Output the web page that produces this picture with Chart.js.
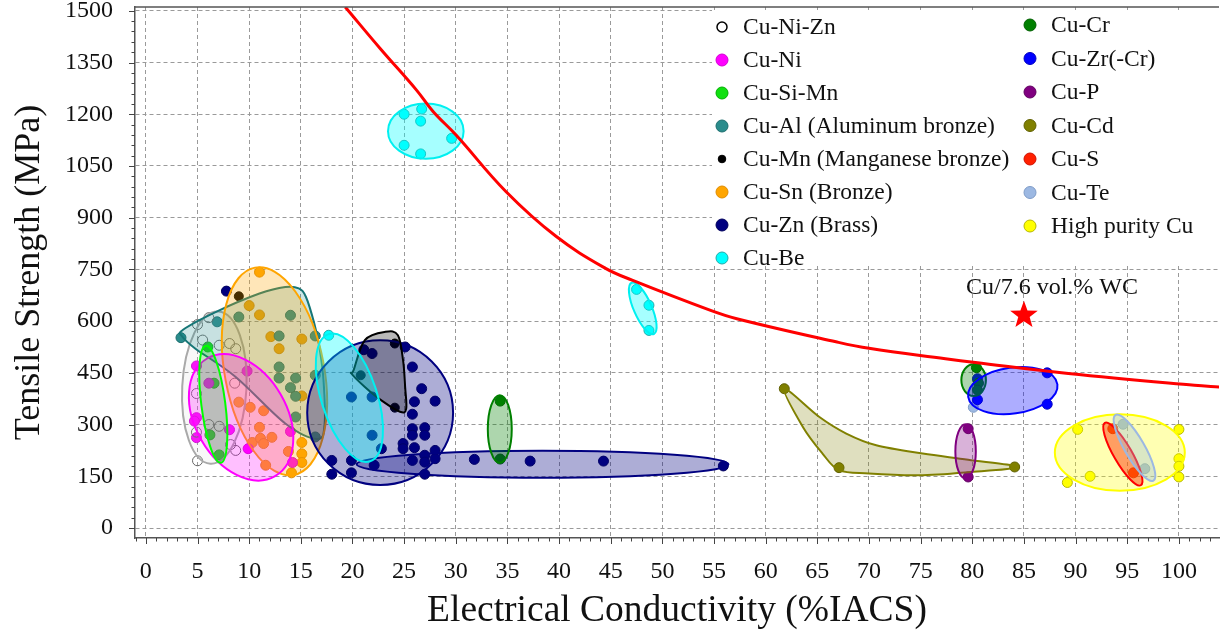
<!DOCTYPE html>
<html>
<head>
<meta charset="utf-8">
<script src="https://cdn.jsdelivr.net/npm/chart.js@4.4.1/dist/chart.umd.min.js"></script>
<style>
  html, body { margin: 0; padding: 0; background: #fff; }
  #wrap { width: 1225px; height: 634px; }
</style>
</head>
<body>
<div id="wrap"><canvas id="c" width="1225" height="634"></canvas></div>
<script>
// ---- axis ticks ----
const xTickValues = [0,5,10,15,20,25,30,35,40,45,50,55,60,65,70,75,80,85,90,95,100];
const yTickValues = [0,150,300,450,600,750,900,1050,1200,1350,1500];

// ---- measured alloys: [conductivity %IACS, tensile strength MPa] ----
const cuNiZn = [[5.0,590],[6.1,610],[5.5,545],[8.1,535],[7.1,530],[8.7,520],[8.6,420],[4.9,390],[6.1,300],[7.1,295],[4.9,278],[8.2,242],[8.7,225],[5.0,195]];
const cuNi = [[4.9,470],[9.8,455],[6.1,420],[4.9,320],[4.7,310],[8.1,285],[4.9,262],[9.9,230],[14.0,280],[14.2,190]];
const cuSiMn = [[6.0,525],[6.6,420],[6.2,270],[7.1,212]];
const cuAl = [[3.4,552],[6.9,598],[9.0,612],[14.0,617],[12.9,557],[16.4,557],[12.9,467],[12.9,435],[14.5,435],[14.0,407],[14.5,382],[14.5,322],[16.4,443],[16.4,264]];
const cuMn = [[9.0,672],[20.8,443],[24.1,349],[24.1,535]];
const cuSn = [[11.0,742],[10.0,645],[11.0,618],[12.1,555],[15.1,548],[12.9,520],[15.1,383],[9.0,365],[10.1,350],[11.4,340],[11.0,292],[10.3,248],[11.1,260],[11.4,245],[12.2,263],[11.6,182],[13.8,222],[15.1,248],[15.1,215],[15.1,190],[14.1,160]];
const cuZn = [[7.8,687],[21.1,517],[21.9,506],[25.1,525],[25.8,467],[26.7,404],[26.0,366],[28.0,368],[25.8,330],[25.8,288],[25.8,269],[27.0,291],[27.0,269],[24.9,245],[24.9,230],[26.0,233],[28.0,225],[27.0,211],[25.8,196],[27.0,191],[28.0,201],[18.0,196],[19.9,196],[18.0,156],[19.9,160],[22.1,182],[27.0,156],[19.9,380],[21.9,380],[21.9,269],[22.8,230],[31.8,199],[37.2,194],[44.3,194],[55.9,180]];
const cuBe = [[25.0,1200],[26.7,1215],[26.6,1180],[25.0,1110],[26.6,1085],[29.6,1130],[47.5,692],[48.7,646],[48.7,573],[17.7,559]];
const cuCr = [[34.3,368],[34.3,200],[80.4,465],[80.6,420],[80.5,400]];
const cuZr = [[80.5,433],[80.5,372],[87.25,450],[87.25,359]];
const cuP = [[79.6,288],[79.6,148]];
const cuCd = [[61.8,404],[67.1,175],[84.1,177]];
const cuS = [[93.6,288],[95.6,160]];
const cuTe = [[94.6,301],[96.7,172],[80.1,350]];
const highPurityCu = [[90.2,286],[100.0,286],[91.4,150],[89.2,132],[100.0,201],[100.0,179],[100.0,148]];

// ---- property envelopes: ellipses [cx, cy, rx (%IACS), ry (MPa), rotation deg] ----
const cuNiZnZone = [[6.63,407,3.11,221,3]];
const cuNiZone = [[9.22,321,4.43,197,-30]];
const cuSiMnZone = [[6.53,359,1.16,171,-7.3]];
const cuSnZone = [[12.45,454.6,4.81,305.8,-10.6]];
const cuZnZone = [[22.68,334.6,7.06,210,0],[38.4,184.8,18.0,39,0]];
const cuBeZone = [[27.1,1151,3.66,80,0],[48.1,637,0.87,81,-23.5],[19.7,377.7,2.70,194,-18]];
const cuCrZone = [[34.26,287,1.16,98,0],[80.13,429,1.19,46,0]];
const cuZrZone = [[83.92,398.6,4.36,66.7,-8]];
const cuPZone = [[79.35,222,0.99,79,0]];
const cuSZone = [[94.57,214.4,0.87,104.4,-30]];
const cuTeZone = [[95.7,232.7,0.96,110,-30]];
const highPurityZone = [[94.28,218.7,6.29,111,0]];

// ---- free-form envelopes (closed smooth outlines) ----
const cuAlOutline = [[3.6,575],[6.8,627],[11.0,680],[13.5,699],[14.8,695],[15.5,670],[16.3,594],[16.8,525],[17.2,428],[17.3,300],[16.6,258],[13.5,303],[8.7,438],[4.8,520],[3.5,556]];
const cuMnOutline = [[20.1,457],[21.2,545],[23.2,569],[24.4,559],[24.9,486],[25.1,409],[25.2,346],[24.6,337],[22.8,370],[21.2,409],[19.9,448]];
const cuCdOutline = [[61.8,404],[65.2,322],[67.8,274],[70.7,240],[75.2,216],[79.6,198],[84.3,177],[79.6,162],[74.8,153],[70.0,158],[67.1,168],[65.5,216],[63.6,293]];

// ---- strength / conductivity trade-off boundary ----
const boundaryCurve = [[19.3,1511],[22.7,1390],[26.2,1270],[27.8,1208],[30.05,1139],[34.85,976],[39.7,846],[44.5,753],[47.07,719],[54.6,632],[57.2,607],[66.8,540],[70.0,521],[77.4,491],[80.3,480],[89.3,448],[101.5,414],[104.0,409]];

// ---- composite ----
const compositePoint = [85.0, 617];
const compositeLabel = 'Cu/7.6 vol.% WC';

const SERIF = '"Liberation Serif", "Times New Roman", serif';

// family table: data + look
const families = [
  { label: 'Cu-Ni-Zn', pts: cuNiZn, fill: 'rgba(255,255,255,0)', edge: '#666', r: 5, lgFill: '#fff', lgEdge: '#000', lgR: 5,
    zones: cuNiZnZone, zFill: 'rgba(200,200,200,0.12)', zEdge: '#a9a9a9' },
  { label: 'Cu-Ni', pts: cuNi, fill: '#ff00ff', edge: '#d400d4', r: 5, zones: cuNiZone, zFill: 'rgba(255,0,255,0.25)', zEdge: '#ff00ff' },
  { label: 'Cu-Si-Mn', pts: cuSiMn, fill: '#10e010', edge: '#00b000', r: 5, zones: cuSiMnZone, zFill: 'rgba(0,200,0,0.25)', zEdge: '#00ff00' },
  { label: 'Cu-Al (Aluminum bronze)', pts: cuAl, fill: '#2a8c8c', edge: '#1c6e6e', r: 5, outline: cuAlOutline, zFill: 'rgba(0,128,128,0.2)', zEdge: '#167676' },
  { label: 'Cu-Mn (Manganese bronze)', pts: cuMn, fill: '#000', edge: '#000', r: 4.5, lgR: 3.8, outline: cuMnOutline, zFill: 'rgba(0,0,0,0.28)', zEdge: '#000' },
  { label: 'Cu-Sn (Bronze)', pts: cuSn, fill: '#ffa500', edge: '#e08c00', r: 5, zones: cuSnZone, zFill: 'rgba(255,165,0,0.28)', zEdge: '#ffa500' },
  { label: 'Cu-Zn (Brass)', pts: cuZn, fill: '#000080', edge: '#00005c', r: 5, zones: cuZnZone, zFill: 'rgba(0,0,128,0.32)', zEdge: '#000080' },
  { label: 'Cu-Be', pts: cuBe, fill: '#00ffff', edge: '#22aaaa', r: 5, zones: cuBeZone, zFill: 'rgba(0,255,255,0.35)', zEdge: '#00f0f0' },
  { label: 'Cu-Cr', pts: cuCr, fill: '#008000', edge: '#006000', r: 5, zones: cuCrZone, zFill: 'rgba(0,128,0,0.32)', zEdge: '#008000' },
  { label: 'Cu-Zr(-Cr)', pts: cuZr, fill: '#0000ff', edge: '#0000c0', r: 5, zones: cuZrZone, zFill: 'rgba(0,0,255,0.32)', zEdge: '#0000ff' },
  { label: 'Cu-P', pts: cuP, fill: '#800080', edge: '#600060', r: 5, zones: cuPZone, zFill: 'rgba(128,0,128,0.3)', zEdge: '#800080' },
  { label: 'Cu-Cd', pts: cuCd, fill: '#808000', edge: '#606000', r: 5, outline: cuCdOutline, zFill: 'rgba(128,128,0,0.25)', zEdge: '#808000' },
  { label: 'Cu-S', pts: cuS, fill: '#ff2000', edge: '#d01000', r: 5, zones: cuSZone, zFill: 'rgba(255,40,0,0.45)', zEdge: '#ff0000' },
  { label: 'Cu-Te', pts: cuTe, fill: '#9cb8e2', edge: '#7f9cc8', r: 5, zones: cuTeZone, zFill: 'rgba(150,185,230,0.35)', zEdge: '#9cb8e2' },
  { label: 'High purity Cu', pts: highPurityCu, fill: '#ffff00', edge: '#b8b800', r: 5, zones: highPurityZone, zFill: 'rgba(255,255,0,0.3)', zEdge: '#ffff00' }
];

// envelope painting order (back to front)
const zoneOrder = ['Cu-Ni-Zn','Cu-Al (Aluminum bronze)','Cu-Sn (Bronze)','Cu-Ni','Cu-Si-Mn','Cu-Zn (Brass)','Cu-Mn (Manganese bronze)','Cu-Be',
  'Cu-Cr','Cu-Cd','Cu-P','Cu-Zr(-Cr)','High purity Cu','Cu-S','Cu-Te'];

function smoothClosed(ctx, pts) {
  const n = pts.length;
  ctx.beginPath();
  ctx.moveTo(pts[0][0], pts[0][1]);
  for (let i = 0; i < n; i++) {
    const p0 = pts[(i - 1 + n) % n], p1 = pts[i], p2 = pts[(i + 1) % n], p3 = pts[(i + 2) % n];
    const c1x = p1[0] + (p2[0] - p0[0]) / 6, c1y = p1[1] + (p2[1] - p0[1]) / 6;
    const c2x = p2[0] - (p3[0] - p1[0]) / 6, c2y = p2[1] - (p3[1] - p1[1]) / 6;
    ctx.bezierCurveTo(c1x, c1y, c2x, c2y, p2[0], p2[1]);
  }
  ctx.closePath();
}

// envelopes are painted over the points, just before the boundary curve
const zonePlugin = {
  id: 'zones',
  beforeDatasetDraw(chart, args) {
    const ds = chart.data.datasets[args.index];
    if (!ds.isBoundary) return;
    const { ctx, chartArea: a, scales: { x, y } } = chart;
    ctx.save();
    ctx.beginPath(); ctx.rect(a.left, a.top, a.right - a.left, a.bottom - a.top); ctx.clip();
    const paint = (f) => {
      ctx.fillStyle = f.zFill; ctx.fill();
      ctx.lineWidth = 2; ctx.strokeStyle = f.zEdge; ctx.stroke();
    };
    for (const name of zoneOrder) {
      const f = families.find(ff => ff.label === name);
      (f.zones || []).forEach(([cx, cy, rx, ry, rot]) => {
        const px = x.getPixelForValue(cx), py = y.getPixelForValue(cy);
        const rxp = Math.abs(x.getPixelForValue(cx + rx) - px);
        const ryp = Math.abs(y.getPixelForValue(cy + ry) - py);
        ctx.beginPath();
        ctx.ellipse(px, py, rxp, ryp, rot * Math.PI / 180, 0, Math.PI * 2);
        paint(f);
      });
      if (f.outline) {
        smoothClosed(ctx, f.outline.map(([vx, vy]) => [x.getPixelForValue(vx), y.getPixelForValue(vy)]));
        paint(f);
      }
    }
    ctx.restore();
  }
};

// frame, minor ticks, composite star and legend
const decorPlugin = {
  id: 'decor',
  afterDatasetsDraw(chart) {
    const { ctx, chartArea: a, scales: { x, y } } = chart;
    ctx.save();
    // top frame line
    ctx.strokeStyle = '#555'; ctx.lineWidth = 1.5;
    ctx.beginPath(); ctx.moveTo(a.left, a.top); ctx.lineTo(a.right, a.top); ctx.stroke();
    // tick marks
    ctx.lineWidth = 1; ctx.strokeStyle = '#444';
    for (let v = Math.ceil(x.min); v <= x.max; v += 1) {
      const px = Math.round(x.getPixelForValue(v)) + 0.5;
      const len = v % 5 === 0 ? 6 : 3.5;
      ctx.beginPath(); ctx.moveTo(px, a.bottom); ctx.lineTo(px, a.bottom + len); ctx.stroke();
    }
    for (let v = 0; v <= y.max; v += 30) {
      const py = Math.round(y.getPixelForValue(v)) + 0.5;
      const len = v % 150 === 0 ? 6 : 3.5;
      ctx.beginPath(); ctx.moveTo(a.left, py); ctx.lineTo(a.left - len, py); ctx.stroke();
    }
    // composite marker
    const sx = x.getPixelForValue(compositePoint[0]), sy = y.getPixelForValue(compositePoint[1]);
    ctx.beginPath();
    for (let i = 0; i < 10; i++) {
      const r = i % 2 === 0 ? 14.5 : 6;
      const ang = -Math.PI / 2 + i * Math.PI / 5;
      const px = sx + r * Math.cos(ang), py = sy + r * Math.sin(ang);
      if (i === 0) ctx.moveTo(px, py); else ctx.lineTo(px, py);
    }
    ctx.closePath();
    ctx.fillStyle = '#ff0000'; ctx.fill();
    ctx.fillStyle = '#111';
    ctx.font = '24px ' + SERIF;
    ctx.textAlign = 'center'; ctx.textBaseline = 'middle';
    ctx.fillText(compositeLabel, sx + 28, sy - 28);

    // legend
    ctx.fillStyle = '#fff';
    ctx.fillRect(712, 10, a.right - 712, 253);
    ctx.font = '23.5px ' + SERIF;
    ctx.textAlign = 'left';
    families.forEach((f, i) => {
      const col = i < 8 ? 0 : 1;
      const row = col === 0 ? i : i - 8;
      const mx = col === 0 ? 722 : 1030;
      const my = col === 0 ? 27 + row * 33 : 25 + row * 33.5;
      ctx.beginPath();
      ctx.arc(mx, my, f.lgR || 6, 0, Math.PI * 2);
      ctx.fillStyle = f.lgFill || f.fill; ctx.fill();
      ctx.lineWidth = f.lgEdge ? 1.5 : 1;
      ctx.strokeStyle = f.lgEdge || f.edge; ctx.stroke();
      ctx.fillStyle = '#111';
      ctx.fillText(f.label, mx + 21, my + 1);
    });
    ctx.restore();
  }
};

const datasets = families.map(f => ({
  type: 'scatter',
  label: f.label,
  data: f.pts.map(([vx, vy]) => ({ x: vx, y: vy })),
  pointBackgroundColor: f.fill,
  pointBorderColor: f.edge,
  pointBorderWidth: 1,
  pointRadius: f.r,
  showLine: false,
  order: 2
}));
datasets.push({
  type: 'line',
  label: 'boundary',
  isBoundary: true,
  data: boundaryCurve.map(([vx, vy]) => ({ x: vx, y: vy })),
  borderColor: '#ff0000',
  borderWidth: 3,
  pointRadius: 0,
  fill: false,
  tension: 0.4,
  order: 0
});

const plainLabel = v => String(v);

new Chart(document.getElementById('c'), {
  data: { datasets },
  options: {
    responsive: false,
    animation: false,
    events: [],
    devicePixelRatio: 1,
    layout: { padding: { top: 7, right: 0, left: 0, bottom: 0 } },
    plugins: { legend: { display: false }, tooltip: { enabled: false } },
    scales: {
      x: {
        type: 'linear', min: -1.05, max: 103.88,
        afterBuildTicks: s => { s.ticks = xTickValues.map(v => ({ value: v })); },
        afterFit: s => { s.height = 96; s.paddingLeft = 0; s.paddingRight = 0; },
        ticks: { font: { family: SERIF, size: 24 }, color: '#111', padding: 19, maxRotation: 0, autoSkip: false, includeBounds: false, callback: plainLabel },
        grid: { color: '#9a9a9a', lineWidth: 1, drawTicks: false },
        border: { display: true, color: '#555', width: 1.5, dash: [4, 3] },
        title: { display: true, text: 'Electrical Conductivity (%IACS)', color: '#111', font: { family: SERIF, size: 37.5 }, padding: { top: 0, bottom: 0 } }
      },
      y: {
        type: 'linear', min: -29, max: 1511,
        afterBuildTicks: s => { s.ticks = yTickValues.map(v => ({ value: v })); },
        afterFit: s => { s.width = 135; s.paddingTop = 0; s.paddingBottom = 0; },
        ticks: { font: { family: SERIF, size: 24 }, color: '#111', padding: 22, autoSkip: false, includeBounds: false, callback: plainLabel },
        grid: { color: '#9a9a9a', lineWidth: 1, drawTicks: false },
        border: { display: true, color: '#555', width: 1.5, dash: [4, 3] },
        title: { display: true, text: 'Tensile Strength (MPa)', color: '#111', font: { family: SERIF, size: 36 }, padding: { top: 8, bottom: 0 } }
      }
    }
  },
  plugins: [zonePlugin, decorPlugin]
});
</script>
</body>
</html>
